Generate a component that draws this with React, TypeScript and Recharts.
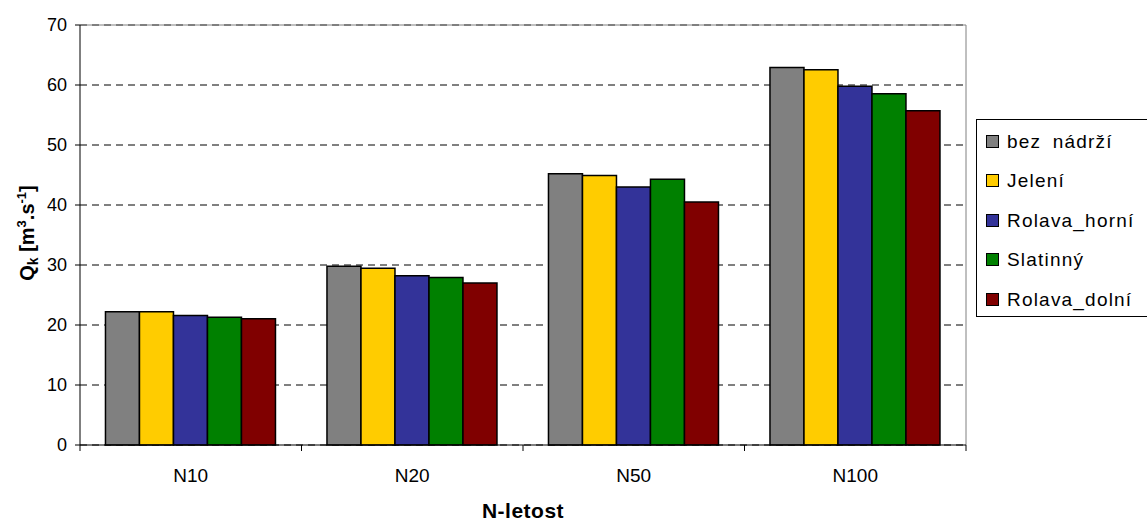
import { BarChart, Bar, XAxis, YAxis, CartesianGrid, ReferenceLine } from "recharts";

const categories = ["N10", "N20", "N50", "N100"];
const bezNadrzi = [22.2, 29.8, 45.2, 62.9];
const jeleni = [22.2, 29.45, 44.9, 62.55];
const rolavaHorni = [21.6, 28.2, 43.0, 59.8];
const slatinny = [21.3, 27.9, 44.3, 58.55];
const rolavaDolni = [21.05, 27.0, 40.5, 55.7];
const yTicks = [0, 10, 20, 30, 40, 50, 60, 70];

const SERIES = [
  { key: "bez", name: "bez nádrží", color: "#808080", values: bezNadrzi },
  { key: "jel", name: "Jelení", color: "#FFCC00", values: jeleni },
  { key: "rh", name: "Rolava_horní", color: "#333399", values: rolavaHorni },
  { key: "sl", name: "Slatinný", color: "#008000", values: slatinny },
  { key: "rd", name: "Rolava_dolní", color: "#800000", values: rolavaDolni },
];

const data = categories.map((c, i) => {
  const row: Record<string, string | number> = { name: c };
  SERIES.forEach((s) => (row[s.key] = s.values[i]));
  return row;
});

const FONT = "Arial, 'Liberation Sans', sans-serif";
const PLOT_LEFT = 80;
const PLOT_RIGHT = 966;
const BAND = (PLOT_RIGHT - PLOT_LEFT) / categories.length;

function XTick(props: any) {
  const { x, y, payload, index } = props;
  const left = x - BAND / 2;
  return (
    <g>
      <line x1={left} x2={left} y1={y - 8} y2={y - 2} stroke="#000" />
      {index === categories.length - 1 && (
        <line x1={x + BAND / 2} x2={x + BAND / 2} y1={y - 8} y2={y - 2} stroke="#000" />
      )}
      <text x={x} y={y + 29} textAnchor="middle" fontSize={19} fontFamily={FONT} fill="#000">
        {payload.value}
      </text>
    </g>
  );
}

function LegendBox() {
  return (
    <div
      style={{
        position: "absolute",
        left: 976,
        top: 119,
        border: "1px solid #000",
        width: 190,
        height: 198,
        boxSizing: "border-box",
        background: "#fff",
        fontFamily: FONT,
        fontSize: 19,
        lineHeight: 1,
        letterSpacing: 1.2,
        wordSpacing: 5,
      }}
    >
      {SERIES.map((s, i) => (
        <div
          key={s.key}
          style={{ position: "absolute", left: 9, top: 11 + i * 39.6, display: "flex", alignItems: "center", height: 20 }}
        >
          <span
            style={{
              display: "inline-block",
              width: 11,
              height: 11,
              background: s.color,
              border: "1px solid #000",
              marginRight: 8,
            }}
          />
          <span style={{ whiteSpace: "nowrap" }}>{s.name}</span>
        </div>
      ))}
    </div>
  );
}

export default function App() {
  return (
    <div style={{ position: "absolute", left: 0, top: 0, width: 1147, height: 522, background: "#fff", overflow: "hidden" }}>
      <BarChart
        width={1147}
        height={522}
        data={data}
        margin={{ top: 25, right: 1147 - PLOT_RIGHT, bottom: 0, left: 20 }}
        barGap={0}
        barCategoryGap="11.5%"
      >
        <CartesianGrid vertical={false} stroke="#000" strokeDasharray="7 5" />
        <CartesianGrid horizontal={false} verticalPoints={[PLOT_RIGHT]} stroke="#808080" />
        <ReferenceLine y={70} stroke="#808080" />
        <XAxis
          dataKey="name"
          height={77}
          tick={<XTick />}
          tickLine={false}
          axisLine={{ stroke: "#000" }}
          interval={0}
        />
        <YAxis
          width={60}
          domain={[0, 70]}
          ticks={yTicks}
          tick={{ fontSize: 18, fontFamily: FONT, fill: "#000" }}
          tickLine={{ stroke: "#000" }}
          tickSize={5}
          tickMargin={8}
          axisLine={{ stroke: "#000" }}
        />
        {SERIES.map((s) => (
          <Bar
            key={s.key}
            dataKey={s.key}
            name={s.name}
            fill={s.color}
            stroke="#000"
            strokeWidth={1.5}
            isAnimationActive={false}
          />
        ))}
        <text
          transform="translate(34, 233) rotate(-90)"
          textAnchor="middle"
          fontSize={20}
          fontWeight="bold"
          fontFamily={FONT}
          fill="#000"
        >
          Q<tspan fontSize={14} dy={4}>k</tspan>
          <tspan dy={-4}> [m</tspan>
          <tspan fontSize={13} dy={-8}>3</tspan>
          <tspan dy={8}>.s</tspan>
          <tspan fontSize={13} dy={-8}>-1</tspan>
          <tspan dy={8}>]</tspan>
        </text>
        <text
          x={523}
          y={518}
          textAnchor="middle"
          fontSize={21}
          fontWeight="bold"
          fontFamily={FONT}
          letterSpacing={0.5}
          fill="#000"
        >
          N-letost
        </text>
      </BarChart>
      <LegendBox />
    </div>
  );
}
